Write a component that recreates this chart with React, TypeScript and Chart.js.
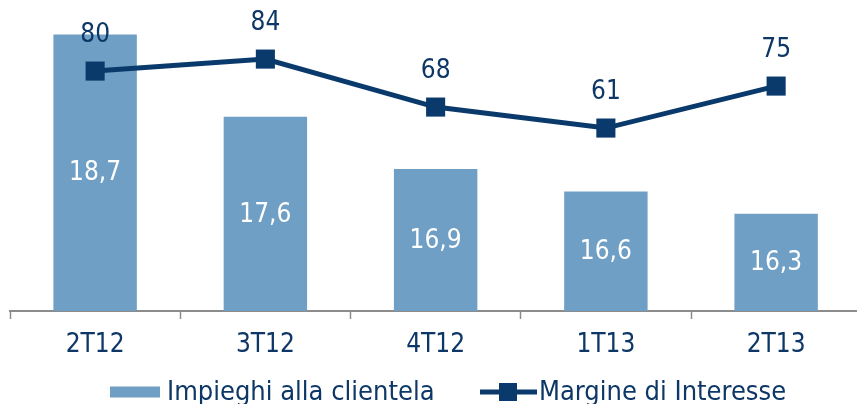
import React, { useEffect, useRef } from "react";
import { Chart, registerables } from "chart.js";

Chart.register(...registerables);

const categories = ["2T12", "3T12", "4T12", "1T13", "2T13"];
const impieghiValues = [18.7, 17.6, 16.9, 16.6, 16.3];
const margineValues = [80, 84, 68, 61, 75];
const seriesNames = ["Impieghi alla clientela", "Margine di Interesse"];

const FONT = "'Liberation Sans Narrow', 'DejaVu Sans Condensed', 'Arial Narrow', sans-serif";
const NAVY = "#0a3a6c";
const BAR = "#6f9fc5";
const TEXT = "#0d3766";

const fmt = (v: number) => v.toFixed(1).replace(".", ",");

const labelsPlugin = {
  id: "valueLabels",
  afterDatasetsDraw(chart: any) {
    const ctx = chart.ctx;
    const bottom = chart.chartArea.bottom;
    ctx.save();
    ctx.font = `26px ${FONT}`;
    ctx.textAlign = "center";
    ctx.textBaseline = "middle";
    const barMeta = chart.getDatasetMeta(0);
    barMeta.data.forEach((el: any, i: number) => {
      ctx.fillStyle = "#ffffff";
      ctx.fillText(fmt(impieghiValues[i]), el.x, (el.y + bottom) / 2 + 1);
    });
    const lineMeta = chart.getDatasetMeta(1);
    lineMeta.data.forEach((el: any, i: number) => {
      ctx.fillStyle = TEXT;
      ctx.fillText(String(margineValues[i]), el.x, el.y - 36);
    });
    ctx.restore();
  },
};

const legendPlugin = {
  id: "customLegend",
  afterDraw(chart: any) {
    const ctx = chart.ctx;
    const cy = 392;
    ctx.save();
    ctx.font = `27px ${FONT}`;
    ctx.textAlign = "left";
    ctx.textBaseline = "middle";
    ctx.fillStyle = BAR;
    ctx.fillRect(110, cy - 5.5, 50, 11);
    ctx.fillStyle = TEXT;
    ctx.fillText(seriesNames[0], 167, cy + 1);
    ctx.strokeStyle = NAVY;
    ctx.lineWidth = 5;
    ctx.beginPath();
    ctx.moveTo(480, cy);
    ctx.lineTo(537, cy);
    ctx.stroke();
    ctx.fillStyle = NAVY;
    ctx.fillRect(499, cy - 9, 18, 18);
    ctx.fillStyle = TEXT;
    ctx.fillText(seriesNames[1], 539, cy + 1);
    ctx.restore();
  },
};

export default function App() {
  const canvasRef = useRef<HTMLCanvasElement | null>(null);

  useEffect(() => {
    if (!canvasRef.current) return;
    const chart = new Chart(canvasRef.current, {
      type: "bar",
      data: {
        labels: categories,
        datasets: [
          {
            type: "bar",
            label: seriesNames[0],
            data: impieghiValues,
            backgroundColor: BAR,
            borderWidth: 0,
            categoryPercentage: 1,
            barPercentage: 0.49,
            yAxisID: "y",
            order: 1,
          },
          {
            type: "line",
            label: seriesNames[1],
            data: margineValues,
            borderColor: NAVY,
            backgroundColor: NAVY,
            borderWidth: 5,
            pointStyle: "rect",
            pointRadius: 13.5,
            pointBorderWidth: 0,
            pointBackgroundColor: NAVY,
            tension: 0,
            clip: false,
            yAxisID: "y1",
            order: 0,
          } as any,
        ],
      },
      options: {
        animation: false,
        responsive: false,
        maintainAspectRatio: false,
        layout: { autoPadding: false, padding: { left: 10, right: 4.75, top: 0, bottom: 0 } },
        plugins: {
          legend: { display: false },
          tooltip: { enabled: false },
        },
        scales: {
          x: {
            offset: true,
            grid: {
              offset: true,
              drawOnChartArea: false,
              drawTicks: true,
              tickLength: 8,
              tickWidth: 1.5,
              tickColor: "#8c8c8c",
            },
            border: { display: true, color: "#8c8c8c", width: 2 },
            ticks: {
              color: TEXT,
              font: { family: FONT, size: 26 },
              padding: 11,
              maxRotation: 0,
            },
            afterFit(scale: any) {
              scale.height = 93;
              scale.paddingLeft = 0;
              scale.paddingRight = 0;
            },
          },
          y: {
            display: false,
            min: 15,
            max: 19.16,
          },
          y1: {
            display: false,
            position: "right",
            min: 0,
            max: 103.7,
          },
        },
      },
      plugins: [labelsPlugin, legendPlugin],
    });
    return () => chart.destroy();
  }, []);

  return (
    <div
      style={{
        position: "fixed",
        left: 0,
        top: 0,
        width: 857,
        height: 404,
        overflow: "hidden",
        background: "#fff",
      }}
    >
      <canvas ref={canvasRef} width={866} height={404} style={{ width: 866, height: 404, display: "block" }} />
    </div>
  );
}
